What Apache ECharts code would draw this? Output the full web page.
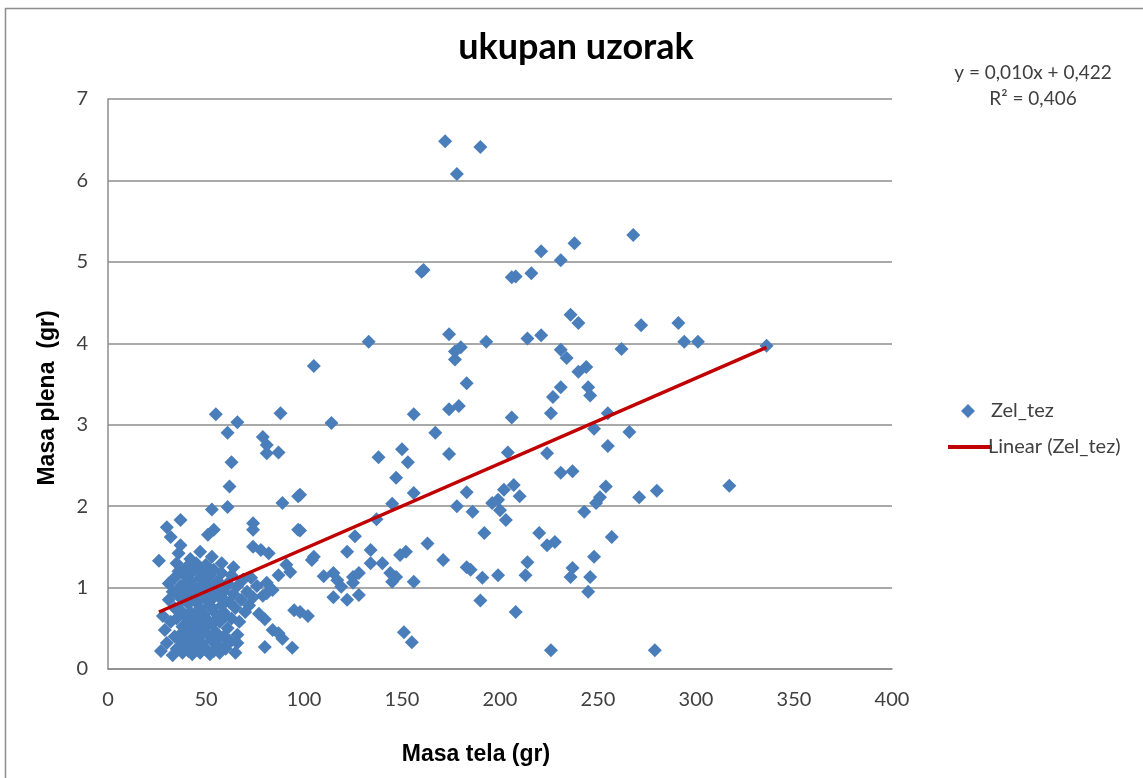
<!DOCTYPE html>
<html>
<head>
<meta charset="utf-8">
<title>ukupan uzorak</title>
<script src="https://cdn.jsdelivr.net/npm/echarts/dist/echarts.min.js"></script>
<style>
  html, body { margin: 0; padding: 0; background: #fff; }
  #chart { width: 1143px; height: 778px; }
</style>
</head>
<body>
<div id="chart"></div>
<script>
(function() {
  'use strict';
  var echarts = window.echarts;

  // Masa tela (gr) / Masa plena (gr)
  var masaTela = [
    172, 190, 178, 160, 161, 206, 208, 216, 221, 231, 238, 268,
    236, 240, 272, 291, 214, 221, 262, 294, 301, 336, 231, 234, 240, 244,
    231, 227, 245, 246, 206, 226, 255, 248, 266, 204, 224, 255, 231, 237,
    202, 207, 210, 254, 251, 249, 243, 271, 280, 317, 200, 203, 220, 224,
    228, 257, 214, 213, 237, 236, 248, 246, 245, 208, 226, 279, 199,
    174, 133, 193, 177, 180, 177, 105, 183, 174, 179, 156, 114, 167, 138,
    150, 153, 174, 147, 156, 183, 145, 178, 186, 196, 199, 192, 137, 126,
    163, 105, 122, 134, 134, 140, 144, 149, 152, 147, 145, 171, 183, 185,
    191, 156, 110, 115, 117, 119, 125, 128, 125, 115, 122, 128, 190, 102,
    98, 151, 155, 98, 98,
    55, 88, 66, 61, 79, 81, 87, 81, 63, 62, 97, 89, 61, 53, 37, 30, 32, 37,
    54, 51, 74, 74, 97, 47, 74, 78, 82, 26, 104, 91, 93, 87, 81, 81, 84, 95,
    80, 84, 87, 89, 80, 94, 66, 66,
    27, 28, 29, 30, 31, 31, 32, 33, 33, 34, 34, 34, 35, 35, 36, 36, 37, 37,
    37, 38, 38, 38, 39, 39, 39, 40, 40, 40, 41, 41, 41, 42, 42, 42, 43, 43,
    43, 44, 44, 44, 45, 45, 45, 46, 46, 46, 47, 47, 47, 48, 48, 48, 49, 49,
    49, 50, 50, 50, 51, 51, 51, 52, 52, 52, 53, 53, 53, 54, 54, 54, 55, 55,
    56, 56, 56, 57, 57, 58, 58, 59, 59, 60, 60, 61, 61, 62, 62, 63, 63, 64,
    65, 65, 66, 67, 68, 69, 70, 71, 72, 73, 74, 76, 77, 79, 42, 36, 53, 58,
    64, 35,
    38, 40, 42, 44, 46, 48, 50, 52, 54, 56, 58, 60, 41, 43, 45, 47, 49, 51,
    53, 55, 57, 59, 44, 48, 52, 56, 39, 61, 46, 50
  ];
  var masaPlena = [
    6.48, 6.41, 6.08, 4.88, 4.90, 4.81, 4.82, 4.86, 5.13, 5.02, 5.23, 5.33,
    4.35, 4.25, 4.22, 4.25, 4.06, 4.10, 3.93, 4.02, 4.02, 3.97, 3.92, 3.82, 3.65, 3.71,
    3.46, 3.34, 3.46, 3.36, 3.09, 3.14, 3.14, 2.95, 2.91, 2.66, 2.65, 2.74, 2.41, 2.43,
    2.20, 2.26, 2.12, 2.24, 2.11, 2.04, 1.93, 2.11, 2.19, 2.25, 1.95, 1.83, 1.67, 1.52,
    1.56, 1.62, 1.31, 1.15, 1.24, 1.13, 1.38, 1.13, 0.95, 0.70, 0.23, 0.23, 1.15,
    4.11, 4.02, 4.02, 3.90, 3.95, 3.80, 3.72, 3.51, 3.19, 3.23, 3.13, 3.02, 2.90, 2.60,
    2.70, 2.54, 2.64, 2.35, 2.16, 2.17, 2.03, 2.00, 1.93, 2.04, 2.08, 1.67, 1.84, 1.63,
    1.54, 1.38, 1.44, 1.46, 1.30, 1.30, 1.18, 1.40, 1.44, 1.13, 1.07, 1.34, 1.25, 1.22,
    1.12, 1.07, 1.14, 1.18, 1.09, 1.01, 1.13, 1.18, 1.06, 0.88, 0.85, 0.91, 0.84, 0.65,
    0.70, 0.45, 0.33, 2.14, 1.70,
    3.13, 3.14, 3.03, 2.90, 2.85, 2.75, 2.66, 2.65, 2.54, 2.24, 2.12, 2.04, 1.99, 1.96, 1.83, 1.74, 1.62, 1.52,
    1.71, 1.65, 1.79, 1.71, 1.71, 1.44, 1.50, 1.46, 1.42, 1.33, 1.34, 1.28, 1.19, 1.15, 1.06, 0.93, 0.97, 0.72,
    0.61, 0.48, 0.44, 0.37, 0.27, 0.26, 0.42, 0.32,
    0.22, 0.65, 0.48, 0.32, 0.85, 1.05, 0.58, 0.17, 0.95, 0.40, 0.75, 1.12, 0.25, 0.62, 0.90, 1.20, 0.35, 0.72,
    1.02, 0.20, 0.52, 0.85, 1.15, 0.30, 0.65, 0.95, 0.42, 1.25, 0.22, 0.58, 0.80, 1.08, 0.35, 0.70, 0.92, 0.18,
    1.20, 0.48, 0.62, 1.02, 0.28, 0.82, 1.30, 0.40, 0.98, 0.55, 0.20, 0.75, 1.12, 0.32, 0.90, 1.22, 0.50, 0.68,
    1.05, 0.25, 0.85, 1.28, 0.42, 0.60, 0.95, 0.18, 0.78, 1.15, 0.35, 0.55, 1.00, 0.22, 0.88, 1.22, 0.45, 0.68,
    0.30, 1.08, 0.90, 0.20, 0.58, 0.78, 1.18, 0.40, 0.95, 0.25, 0.65, 1.05, 0.50, 0.82, 0.35, 1.15, 0.62, 0.92,
    0.75, 0.20, 1.02, 0.58, 0.85, 1.10, 0.70, 0.95, 0.78, 1.12, 0.88, 1.02, 0.68, 0.90, 1.35, 1.42, 1.38, 1.30,
    1.25, 1.30,
    0.45, 0.88, 0.52, 0.32, 0.70, 1.10, 0.58, 0.40, 0.98, 0.62, 0.88, 1.00, 1.15, 0.55, 0.95, 0.42, 0.25, 1.18,
    0.75, 1.05, 1.05, 0.70, 0.88, 0.60, 1.02, 0.38, 1.05, 0.30, 1.20, 1.12
  ];

  // Linear (Zel_tez): endpoints of the drawn trend line
  var trendX = [26, 336];
  var trendY = [0.70, 3.95];

  var xTicks = [0, 400, 50];
  var yTicks = [0, 7, 1];

  var points = [];
  for (var i = 0; i < masaTela.length; i++) {
    points.push([masaTela[i], masaPlena[i]]);
  }
  var trend = [[trendX[0], trendY[0]], [trendX[1], trendY[1]]];

  var myChart = echarts.init(document.getElementById('chart'), null, {renderer: 'canvas'});

  var labelFont = 'Lato, "Open Sans", sans-serif';
  var arialFont = '"Liberation Sans", Arial, sans-serif';
  var blue = '#4a7ebb';
  var red = '#c00000';

  var option = {
    backgroundColor: '#fff',
    animation: false,
    title: {
      text: 'ukupan uzorak',
      left: 571,
      top: 24,
      textAlign: 'center',
      textStyle: {
        fontFamily: labelFont,
        fontWeight: 'bold',
        fontSize: 36,
        color: '#000'
      }
    },
    grid: {
      left: 108,
      right: 251,
      top: 99,
      bottom: 109,
      containLabel: false
    },
    // two legends so the diamond keeps its shape and the line gets its width
    legend: [{
      orient: 'vertical',
      left: 956,
      top: 396,
      itemWidth: 14,
      itemHeight: 14,
      icon: 'diamond',
      textStyle: {
        fontFamily: labelFont,
        fontSize: 20,
        color: '#404040',
        padding: [0, 0, 0, 11]
      },
      data: ['Zel_tez']
    }, {
      orient: 'vertical',
      left: 943,
      top: 432,
      itemWidth: 44,
      itemHeight: 4,
      icon: 'rect',
      textStyle: {
        fontFamily: labelFont,
        fontSize: 20,
        color: '#404040',
        padding: [0, 0, 0, -9]
      },
      data: ['Linear (Zel_tez)']
    }],
    xAxis: {
      type: 'value',
      min: xTicks[0],
      max: xTicks[1],
      interval: xTicks[2],
      axisLine: { show: true, lineStyle: { color: '#8c8c8c', width: 1.5 } },
      axisTick: { show: false },
      splitLine: { show: false },
      axisLabel: {
        margin: 21,
        fontFamily: labelFont,
        fontSize: 20,
        color: '#404040'
      }
    },
    yAxis: {
      type: 'value',
      min: yTicks[0],
      max: yTicks[1],
      interval: yTicks[2],
      axisLine: { show: true, lineStyle: { color: '#8c8c8c', width: 1.5 } },
      axisTick: { show: false },
      splitLine: { show: true, lineStyle: { color: '#8c8c8c', width: 1.5 } },
      axisLabel: {
        margin: 20,
        fontFamily: labelFont,
        fontSize: 20,
        color: '#404040'
      }
    },
    series: [{
      name: 'Zel_tez',
      type: 'scatter',
      symbol: 'diamond',
      symbolSize: 14,
      itemStyle: { color: blue, opacity: 1 },
      data: points,
      z: 2
    }, {
      name: 'Linear (Zel_tez)',
      type: 'line',
      symbol: 'none',
      itemStyle: { color: red },
      lineStyle: { color: red, width: 3.5 },
      data: trend,
      z: 3
    }],
    graphic: [{
      type: 'rect',
      shape: { x: 5.5, y: 8.5, width: 1200, height: 800 },
      style: { fill: 'none', stroke: '#8c8c8c', lineWidth: 1.5 },
      silent: true
    }, {
      type: 'text',
      x: 1033,
      y: 60,
      style: {
        text: 'y = 0,010x + 0,422\nR² = 0,406',
        align: 'center',
        fontFamily: labelFont,
        fontSize: 19,
        lineHeight: 26,
        fill: '#404040'
      }
    }, {
      type: 'text',
      x: 476,
      y: 743,
      style: {
        text: 'Masa tela (gr)',
        align: 'center',
        fontFamily: arialFont,
        fontWeight: 'bold',
        fontSize: 23,
        fill: '#000'
      }
    }, {
      type: 'text',
      x: 36,
      y: 398,
      rotation: Math.PI / 2,
      style: {
        text: 'Masa plena  (gr)',
        align: 'center',
        verticalAlign: 'top',
        fontFamily: arialFont,
        fontWeight: 'bold',
        fontSize: 23,
        fill: '#000'
      }
    }]
  };

  myChart.setOption(option);
}());
</script>
</body>
</html>
